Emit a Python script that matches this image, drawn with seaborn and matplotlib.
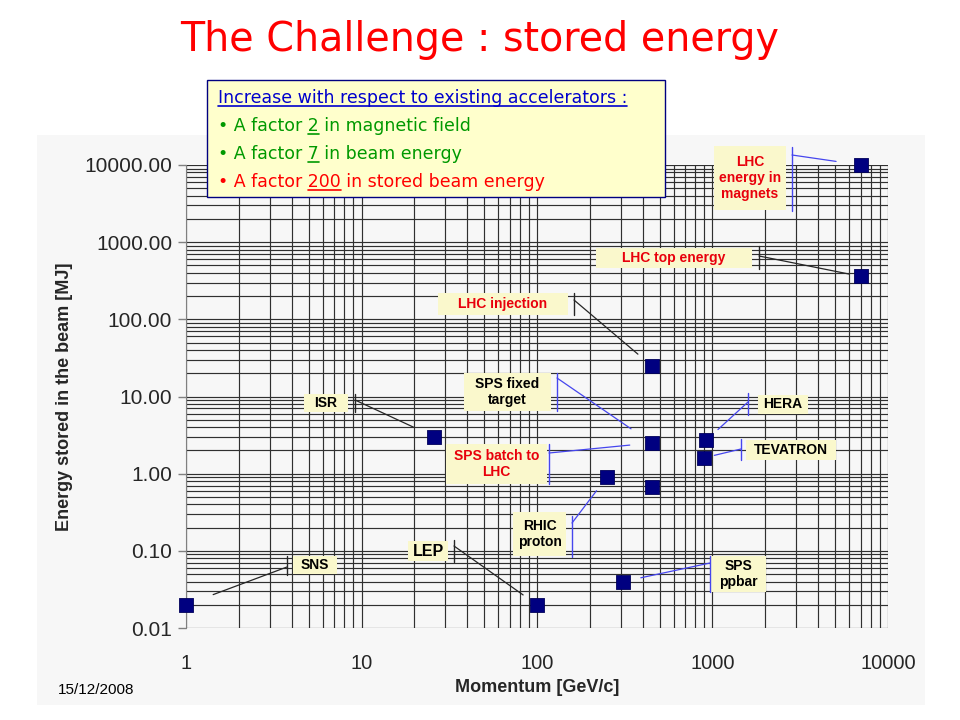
import pandas as pd
import matplotlib.pyplot as plt
import seaborn as sns
from matplotlib.patches import Rectangle
from matplotlib.lines import Line2D
from matplotlib.ticker import LogLocator, FuncFormatter

# valores (momento en GeV/c, energia en MJ)
momentum = [1, 100, 310, 250, 450, 450, 450, 26, 920, 890, 7000, 7000]
energy = [0.02, 0.02, 0.04, 0.9, 25, 2.5, 0.68, 3, 2.7, 1.6, 360, 10000]

labels = ['SNS', 'LEP', 'SPS\nppbar', 'RHIC\nproton', 'LHC injection',
          'SPS fixed\ntarget', 'SPS batch to\nLHC', 'ISR', 'HERA', 'TEVATRON',
          'LHC top energy', 'LHC\nenergy in\nmagnets']
label_target = [0, 1, 2, 3, 4, 5, 5, 7, 8, 9, 10, 11]

df = pd.DataFrame({'momentum': momentum, 'energy': energy})

# layout de las etiquetas en pixeles de la imagen (y hacia abajo)
# caja (x0, y0, x1, y1), barra x, barra y1, y2, inicio linea y, hueco px
layout = [
    ((293, 556, 337, 574), 287, 556, 575, 567, 29, 'k', 'k', 10),
    ((408, 541, 448, 561), 454, 540, 562, 546, 17, 'k', 'k', 11.5),
    ((711, 556, 766, 592), 710, 556, 592, 563, 18, 'b', 'k', 10),
    ((513, 512, 566, 556), 572, 516, 557, 523, 17, 'b', 'k', 10),
    ((438, 293, 568, 315), 574, 293, 315, 300, 18, 'k', 'r', 10),
    ((464, 373, 551, 411), 557, 373, 411, 378, 25, 'b', 'k', 10),
    ((446, 444, 547, 484), 549, 444, 484, 453, 22, 'b', 'r', 10),
    ((304, 394, 348, 412), 355, 394, 412, 400, 23, 'k', 'k', 10),
    ((758, 395, 808, 414), 748, 393, 415, 402, 16, 'b', 'k', 10),
    ((746, 440, 836, 460), 741, 439, 460, 449, 11, 'b', 'k', 10),
    ((596, 248, 752, 268), 759, 246, 269, 256, 12, 'k', 'r', 10),
    ((714, 146, 786, 210), 792, 147, 211, 155, 25, 'b', 'r', 10),
]
line_colors = {'k': '#262626', 'b': '#4646ee'}
text_colors = {'k': 'black', 'r': '#e8000c'}

W, H = 960, 720

sns.set_style('white')
plt.rcParams['font.family'] = ['Liberation Sans', 'DejaVu Sans']

fig = plt.figure(figsize=(9.6, 7.2), dpi=100)
fig.patch.set_facecolor('white')
renderer = fig.canvas.get_renderer()

# fondo gris del area del grafico
fig.patches.append(Rectangle((37 / W, 1 - 705 / H), 888 / W, 570 / H,
                             transform=fig.transFigure, facecolor='#f7f7f7',
                             edgecolor='none', zorder=-1))

ax = fig.add_axes([186 / W, 1 - 628 / H, 702 / W, 463 / H])
ax.set_facecolor('#f7f7f7')

sns.scatterplot(x='momentum', y='energy', data=df, ax=ax, marker='s', s=90,
                color='#000080', edgecolor='#00005a', linewidth=0.6, zorder=5)
ax.collections[0].set_clip_on(False)

ax.set_xscale('log')
ax.set_yscale('log')
ax.set_xlim(1, 10000)
ax.set_ylim(0.01, 10000)
ax.xaxis.set_major_locator(LogLocator(base=10, numticks=10))
ax.yaxis.set_major_locator(LogLocator(base=10, numticks=10))
ax.xaxis.set_minor_locator(LogLocator(base=10, subs=range(2, 10), numticks=10))
ax.yaxis.set_minor_locator(LogLocator(base=10, subs=range(2, 10), numticks=10))
ax.yaxis.set_major_formatter(FuncFormatter(lambda v, _: f'{v:.2f}'))
ax.xaxis.set_major_formatter(FuncFormatter(lambda v, _: f'{v:g}'))
ax.grid(True, which='both', color='#303030', linewidth=0.85)
ax.set_axisbelow(True)

for s in ['top', 'right', 'bottom']:
    ax.spines[s].set_visible(False)
ax.spines['left'].set_color('#808080')
ax.tick_params(axis='y', which='major', direction='out', length=6, width=1,
               color='#808080', pad=4, labelsize=15, left=True)
ax.tick_params(axis='y', which='minor', left=False)
ax.tick_params(axis='x', which='both', length=0, pad=19, labelsize=14.5)

ax.set_xlabel('Momentum [GeV/c]', fontsize=13, fontweight='bold', labelpad=4)
ax.set_ylabel('Energy stored in the beam [MJ]', fontsize=13,
              fontweight='bold', labelpad=8)

# etiquetas con lineas de llamada
for lab, tgt, lay in zip(labels, label_target, layout):
    (x0, y0, x1, y1), bx, by1, by2, sy, gap, lc, tc, fs = lay
    fig.patches.append(Rectangle((x0 / W, 1 - y1 / H), (x1 - x0) / W,
                                 (y1 - y0) / H, transform=fig.transFigure,
                                 facecolor='#faf8cc', edgecolor='none', zorder=1))
    fig.text((x0 + x1) / 2 / W, 1 - (y0 + y1) / 2 / H, lab, ha='center',
             va='center', fontsize=fs, fontweight='bold', color=text_colors[tc],
             linespacing=1.15, zorder=3)
    fig.add_artist(Line2D([bx / W, bx / W], [1 - by1 / H, 1 - by2 / H],
                          transform=fig.transFigure, color=line_colors[lc],
                          linewidth=1.0, zorder=3))
    ax.annotate('', xy=(momentum[tgt], energy[tgt]), xycoords='data',
                xytext=(bx, H - sy), textcoords='figure pixels',
                arrowprops=dict(arrowstyle='-', color=line_colors[lc], lw=0.9,
                                shrinkA=0, shrinkB=gap / 1.389),
                annotation_clip=False)

# titulo
fig.text(0.5, 1 - 40 / H, 'The Challenge : stored energy', ha='center',
         va='center', fontsize=28.5, color='#ff0000', family='DejaVu Sans')

# recuadro amarillo superior
fig.patches.append(Rectangle((207 / W, 1 - 197 / H), 458 / W, 117 / H,
                             transform=fig.transFigure, facecolor='#ffffcc',
                             edgecolor='#000080', linewidth=1, zorder=2))
box_lines = [
    ('', 'Increase with respect to existing accelerators :', '', '#0000cc', 103),
    ('• A factor ', '2', ' in magnetic field', '#009900', 131),
    ('• A factor ', '7', ' in beam energy', '#009900', 159),
    ('• A factor ', '200', ' in stored beam energy', '#ff0000', 187),
]
box_font = dict(fontsize=12.5, family='DejaVu Sans')


def text_width(s):
    t = fig.text(0, 0, s, **box_font)
    w = t.get_window_extent(renderer).width
    t.remove()
    return w


x_start = 218
for pre, ul, post, col, y in box_lines:
    fig.text(x_start / W, 1 - y / H, pre + ul + post, ha='left', va='baseline',
             color=col, zorder=4, **box_font)
    if pre:
        u0 = x_start + text_width(pre + '.') - text_width('.')
    else:
        u0 = x_start
    u1 = x_start + text_width(pre + ul)
    fig.add_artist(Line2D([u0 / W, u1 / W], [1 - (y + 3) / H] * 2,
                          transform=fig.transFigure, color=col,
                          linewidth=1.2, zorder=4))

fig.text(58 / W, 1 - 690 / H, '15/12/2008', ha='left', va='center',
         fontsize=11, color='black')

fig.savefig('out.png', dpi=100)
